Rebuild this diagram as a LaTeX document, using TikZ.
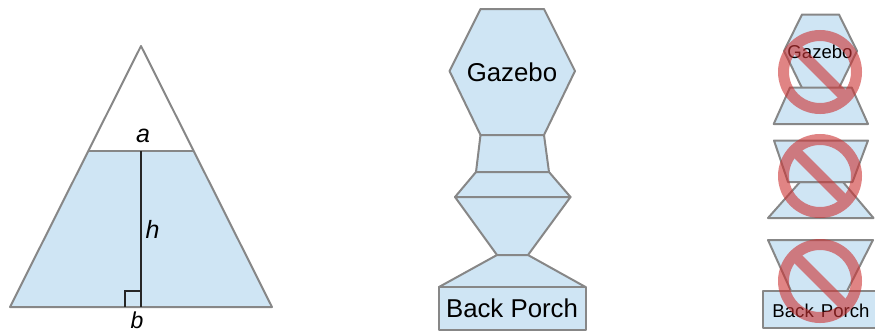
\documentclass[tikz,border=0pt]{standalone}
\usepackage{fontspec}
\setmainfont{Liberation Sans}
\definecolor{paleblue}{RGB}{207,229,244}
\definecolor{edgegray}{RGB}{135,135,135}
\definecolor{nored}{RGB}{204,50,50}
\tikzset{
  x=1pt,y=-1pt,
  piece/.style={draw=edgegray,fill=paleblue,line width=2pt,line join=round},
  outlineonly/.style={draw=edgegray,line width=2pt,line join=round},
  height line/.style={draw=black!85,line width=1.6pt},
  mathlabel/.style={font=\fontsize{25}{27}\selectfont\itshape,inner sep=0pt,text=black},
  biglabel/.style={font=\fontsize{25.8}{28}\selectfont,inner sep=0pt,text=black},
  smalllabel/.style={font=\fontsize{18.6}{20}\selectfont,inner sep=0pt,text=black},
  nosign/.style={opacity=0.6,transparency group},
}
\newcommand{\nosymbol}[2]{%
  \begin{scope}[nosign]
    \draw[draw=nored,line width=11pt] (#1,#2) circle[radius=36.5];
    \draw[draw=nored,line width=11pt] ({#1-26},{#2-26}) -- ({#1+26},{#2+26});
  \end{scope}}
\begin{document}
\begin{tikzpicture}
\useasboundingbox (0,0) rectangle (875,333);
\clip (0,0) rectangle (875,333);
% left figure
\fill[paleblue] (88.5,151) -- (194,151) -- (272,307) -- (10,307) -- cycle;
\draw[outlineonly] (10,307) -- (141,46) -- (272,307) -- cycle;
\draw[outlineonly] (88.5,151) -- (194,151);
\coordinate (topfoot) at (141,151);
\coordinate (basefoot) at (141,307);
\draw[height line] (topfoot) -- (basefoot);
\draw[height line,line width=1.4pt] (125,307) -- (125,291) -- (141,291);
\node[mathlabel] (la) at (143,136) {a};
\node[mathlabel] (lh) at (152.5,229) {h};
\node[mathlabel,font=\fontsize{23}{25}\selectfont\itshape] (lb) at (137,320.5) {b};
% middle stack
\draw[piece] (480.5,9) -- (544,9) -- (575,71) -- (544,135) -- (480.5,135) -- (449.5,71) -- cycle;
\draw[piece] (480.5,135) -- (544,135) -- (549,172) -- (476,172) -- cycle;
\draw[piece] (476,172) -- (549,172) -- (570.5,197) -- (455,197) -- cycle;
\draw[piece] (455,197) -- (570.5,197) -- (528,255) -- (497,255) -- cycle;
\draw[piece] (497,255) -- (528,255) -- (585.5,287) -- (439,287) -- cycle;
\draw[piece] (439,287) rectangle (585.5,329.5);
\node[biglabel] (gaz) at (512,72) {Gazebo};
\node[biglabel] (porch) at (512,308) {Back Porch};
% right group 1
\draw[piece] (802,14.5) -- (839,14.5) -- (857,51) -- (839,88) -- (802,88) -- (784,51) -- cycle;
\draw[piece] (790,87.5) -- (851.7,87.5) -- (868,124) -- (773.7,124) -- cycle;
\node[smalllabel] (gaz2) at (820,52) {Gazebo};
\nosymbol{820}{72}
% right group 2
\draw[piece] (800,182) -- (843,182) -- (873.5,218) -- (768,218) -- cycle;
\draw[piece] (774,140.5) -- (868,140.5) -- (852.5,182) -- (788,182) -- cycle;
\nosymbol{820}{176}
% right group 3
\draw[piece] (768,240) -- (873,240) -- (847,291) -- (791,291) -- cycle;
\draw[piece] (763,291) rectangle (880,328);
\node[smalllabel] (porch2) at (821,311) {Back\hspace{2pt} Porch};
\nosymbol{820}{281}
\end{tikzpicture}
\end{document}
